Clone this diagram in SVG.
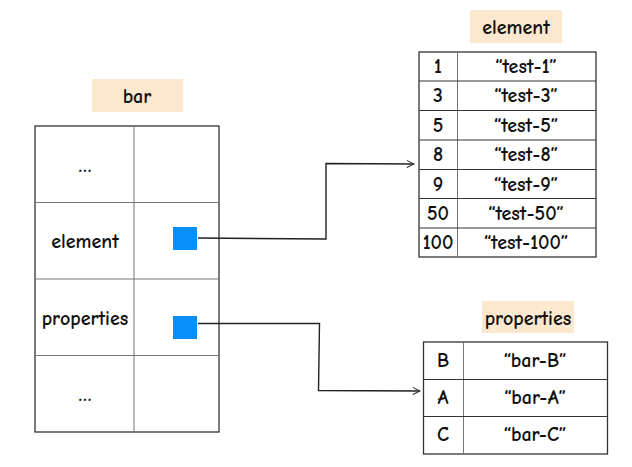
<svg xmlns="http://www.w3.org/2000/svg" width="632" height="467" viewBox="0 0 632 467">
<defs>
<style>
text{font-family:"Comic Neue","Liberation Sans","DejaVu Sans",sans-serif;font-size:20px;font-weight:bold;fill:#111;text-anchor:middle}
.lbl{fill:#fce8cf}
.outer{fill:#fff;stroke:#333;stroke-width:1.3}
.in{stroke:#777;stroke-width:1}
.hl{stroke:#333;stroke-width:1}
.ptr{fill:#0a8ef8}
.conn{fill:none;stroke:#222;stroke-width:1.4}
</style>
<marker id="arr" viewBox="0 0 10 10" refX="9" refY="5" markerWidth="9" markerHeight="9" markerUnits="userSpaceOnUse" orient="auto">
<path d="M1,1 L9,5 L1,9" fill="none" stroke="#333" stroke-width="1.2"/>
</marker>
</defs>
<rect width="632" height="467" fill="#fff"/>

<g id="bar">
<rect class="lbl" x="92" y="79" width="91" height="33"/>
<text x="137" y="103">bar</text>
<rect class="outer" x="35" y="126" width="184" height="306"/>
<line class="in" x1="134" y1="126" x2="134" y2="432"/>
<line class="in" x1="35" y1="202.5" x2="219" y2="202.5"/>
<line class="in" x1="35" y1="279" x2="219" y2="279"/>
<line class="in" x1="35" y1="355.5" x2="219" y2="355.5"/>
<text x="85" y="172" font-size="14">…</text>
<text x="85" y="248">element</text>
<text x="85" y="325">properties</text>
<text x="85" y="401" font-size="14">…</text>
<rect class="ptr" x="173" y="227" width="24" height="23"/>
<rect class="ptr" x="173" y="316" width="24" height="23"/>
</g>

<g id="element">
<rect class="lbl" x="470" y="10" width="92" height="33"/>
<text x="516" y="34">element</text>
<rect class="outer" x="419" y="52" width="177" height="205"/>
<line class="in" x1="457.5" y1="52" x2="457.5" y2="257"/>
<line class="hl" x1="419" y1="81" x2="596" y2="81"/>
<line class="hl" x1="419" y1="110.5" x2="596" y2="110.5"/>
<line class="hl" x1="419" y1="140" x2="596" y2="140"/>
<line class="hl" x1="419" y1="169.5" x2="596" y2="169.5"/>
<line class="hl" x1="419" y1="198.5" x2="596" y2="198.5"/>
<line class="hl" x1="419" y1="228" x2="596" y2="228"/>
<text x="438" y="73">1</text><text x="526" y="73">“test-1”</text>
<text x="438" y="102">3</text><text x="526" y="102">“test-3”</text>
<text x="438" y="131.5">5</text><text x="526" y="131.5">“test-5”</text>
<text x="438" y="161">8</text><text x="526" y="161">“test-8”</text>
<text x="438" y="190.5">9</text><text x="526" y="190.5">“test-9”</text>
<text x="438" y="219.5">50</text><text x="526" y="219.5">“test-50”</text>
<text x="438" y="249">100</text><text x="526" y="249">“test-100”</text>
</g>

<g id="properties">
<rect class="lbl" x="482" y="301" width="92" height="32"/>
<text x="528" y="325">properties</text>
<rect class="outer" x="423.5" y="342" width="184" height="112"/>
<line class="in" x1="463.5" y1="342" x2="463.5" y2="454"/>
<line class="hl" x1="423.5" y1="379.5" x2="607.5" y2="379.5"/>
<line class="hl" x1="423.5" y1="416.5" x2="607.5" y2="416.5"/>
<text x="443" y="367">B</text><text x="535" y="367">“bar-B”</text>
<text x="443" y="404">A</text><text x="535" y="404">“bar-A”</text>
<text x="443" y="441">C</text><text x="535" y="441">“bar-C”</text>
</g>

<g id="connectors">
<path class="conn" d="M198,238 L326,239 L326,163.5 L414,164" marker-end="url(#arr)"/>
<path class="conn" d="M198,323.5 L319.5,323.5 L318.5,390.5 L420,391" marker-end="url(#arr)"/>
</g>
</svg>
